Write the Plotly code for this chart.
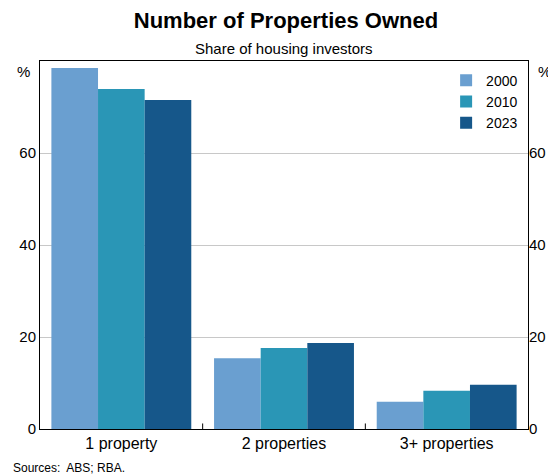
import plotly.graph_objects as go

categories = ["1 property", "2 properties", "3+ properties"]
years = ["2000", "2010", "2023"]
share_2000 = [78.5, 15.4, 5.9]
share_2010 = [73.9, 17.6, 8.3]
share_2023 = [71.5, 18.7, 9.6]
colors = ["#6a9fd0", "#2a96b6", "#16578a"]

fig = go.Figure()
for name, vals, c in zip(years, [share_2000, share_2010, share_2023], colors):
    fig.add_trace(go.Bar(x=categories, y=vals, name=name, marker_color=c, marker_line_width=0))

axis_font = dict(family="Arial, Liberation Sans", size=15, color="black")
fig.update_layout(
    width=556, height=474,
    margin=dict(l=32, r=36, t=53, b=53),
    plot_bgcolor="white", paper_bgcolor="white",
    bargap=0.14, bargroupgap=0,
    font=axis_font,
    title=dict(text="<b>Number of Properties Owned</b>", x=0.5, y=0.99, yanchor="top",
               font=dict(family="Arial, Liberation Sans", size=22)),
    legend=dict(x=0.99, y=0.99, xanchor="right", yanchor="top", bgcolor="rgba(0,0,0,0)",
                font=dict(size=14), itemwidth=30, tracegroupgap=0, itemsizing="constant"),
    xaxis=dict(showline=True, linecolor="black", mirror=True, ticks="", tickfont=dict(size=16)),
    yaxis=dict(range=[0, 80], tickvals=[0, 20, 40, 60], showgrid=True, gridcolor="#c8c8c8",
               showline=True, linecolor="black", mirror=True, ticks="", zeroline=False),
    yaxis2=dict(range=[0, 80], tickvals=[0, 20, 40, 60], overlaying="y", side="right",
                showgrid=False, ticks="", zeroline=False),
)
fig.add_trace(go.Scatter(x=categories, y=[None]*3, yaxis="y2", showlegend=False))
fig.add_annotation(text="Share of housing investors", x=0.5, y=1.0, xref="paper", yref="paper",
                   xanchor="center", yanchor="bottom", yshift=2, showarrow=False, font=dict(size=15))
fig.add_annotation(text="%", x=0, y=1, xref="paper", yref="paper", xanchor="right", yanchor="top",
                   xshift=-8, showarrow=False, font=dict(size=15))
fig.add_annotation(text="%", x=1, y=1, xref="paper", yref="paper", xanchor="left", yanchor="top",
                   xshift=8, showarrow=False, font=dict(size=15))
fig.add_annotation(text="Sources:  ABS; RBA.", x=-0.06, y=0, xref="paper", yref="paper",
                   xanchor="left", yanchor="top", yshift=-30, showarrow=False, font=dict(size=12))
for xp in [1/3, 2/3]:
    fig.add_shape(type="line", x0=xp, x1=xp, y0=0, y1=0.015, xref="paper", yref="paper",
                  line=dict(color="black", width=1))
fig.write_html("out.html")
